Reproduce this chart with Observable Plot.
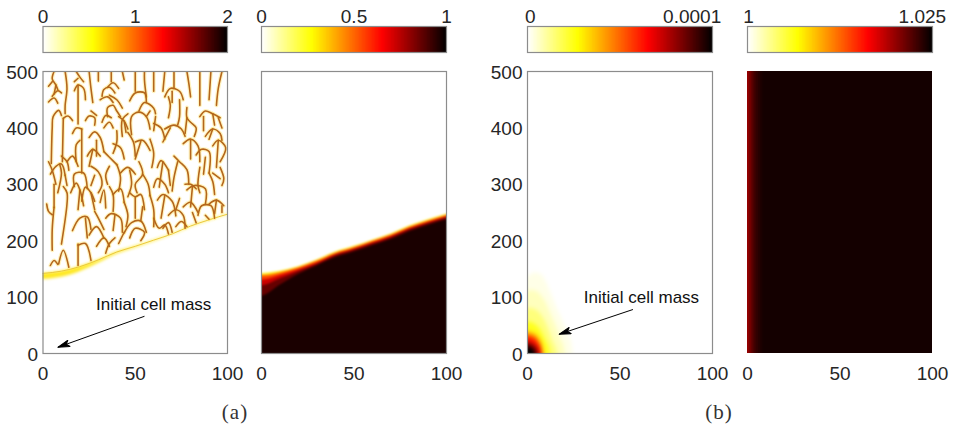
<!DOCTYPE html>
<html><head><meta charset="utf-8">
<script src="https://cdn.jsdelivr.net/npm/d3@7"></script>
<script src="https://cdn.jsdelivr.net/npm/@observablehq/plot@0.6"></script>
<style>
html,body{margin:0;padding:0;background:#fff;}
#root{position:relative;width:957px;height:428px;overflow:hidden;font-family:"Liberation Sans",sans-serif;}
#root>svg{position:absolute;overflow:visible;background:transparent;}
.cap{position:absolute;top:400px;font:21px "Liberation Serif",serif;letter-spacing:1px;color:#333;transform:translateX(-50%);}
</style></head><body><div id="root"></div>
<script>
// colour map stops (fraction of the bar)
const mapStops = [0, 0.27, 0.65, 1];
const mapColors = ["#ffffff", "#ffff00", "#ff0000", "#000000"];
const rampSteps = d3.range(0, 1, 1 / 128);

// colour bars: [label, position along bar as fraction]
const barDomains = [[0, 2], [0, 1], [0, 0.0001], [1, 1.025]];
const barLabels = [
  [["0", 0], ["1", 0.5], ["2", 1]],
  [["0", 0], ["0.5", 0.5], ["1", 1]],
  [["0", 0.015], ["0.0001", 0.89]],
  [["1", 0.005], ["1.025", 0.945]]
];

// axes
const xTicks = [0, 50, 100];
const yTicks = [0, 100, 200, 300, 400, 500];

// propagating front height, y over x
const frontX = [-6, 0, 10, 20, 30, 40, 50, 60, 70, 80, 90, 100, 106];
const frontY = [141, 142, 146, 154, 166, 180, 190, 201, 212, 226, 237, 247, 252];
const bandLow = [130, 131, 135, 145, 160, 176, 187, 198, 210, 224, 235, 245, 250];

// panel (a, right): cell density levels below the front
const frontLevels = [
  [0.18, [141, 142, 146, 154, 166, 180, 190, 201, 212, 226, 237, 247, 252]],
  [0.35, [140, 140, 145, 153, 165, 179, 189, 200, 211, 225, 236, 246, 251]],
  [0.55, [137, 137, 142, 151, 163, 177, 187, 198, 209, 223, 234, 244, 249]],
  [0.72, [130, 130, 138, 148, 160, 175, 185, 196, 207, 221, 232, 242, 247]],
  [0.86, [120, 120, 132, 145, 158, 173, 183, 194, 205, 219, 230, 240, 245]],
  [0.965, [102, 102, 121, 140, 155, 170, 180, 191, 202, 216, 227, 237, 242]]
];

// panel (b, left): concentration contours, y over x
const blobX = [-10, 0, 2, 4, 6, 8, 10, 12, 14, 16, 18, 20, 22, 24, 26];
const blobLevels = [
  [0.025, [130, 135, 140, 143, 142, 138, 128, 112, 96, 80, 66, 50, 36, 16, 0]],
  [0.07, [108, 110, 112, 111, 108, 100, 90, 75, 60, 44, 26, 8, 0, 0, 0]],
  [0.14, [78, 80, 80, 78, 74, 66, 54, 38, 20, 4, 0, 0, 0, 0, 0]],
  [0.24, [56, 56, 55, 52, 46, 36, 22, 6, 0, 0, 0, 0, 0, 0, 0]],
  [0.42, [38, 38, 37, 34, 28, 14, 0, 0, 0, 0, 0, 0, 0, 0, 0]],
  [0.62, [30, 30, 29, 26, 18, 4, 0, 0, 0, 0, 0, 0, 0, 0, 0]],
  [0.82, [20, 20, 18, 14, 4, 0, 0, 0, 0, 0, 0, 0, 0, 0, 0]],
  [1, [12, 12, 10, 4, 0, 0, 0, 0, 0, 0, 0, 0, 0, 0, 0]]
];

// panel (b, right): value columns
const columnEdges = [0, 1, 2, 3, 4, 5, 6, 7, 8, 9, 100];
const columnValues = [1.0200, 1.0208, 1.0216, 1.0224, 1.0230, 1.0234, 1.0237, 1.0240, 1.0242, 1.0243];

// panel (a, left): branching strands traced as x,y,x,y...
const strands = [
  [6,500,5,487,7,476,8,468],[3,474,5,482],[3,446,6,453,8,444],[7,476,6,460],[5,456,8,466,10,462],
  [12,500,13,470,12,440,12,425],[4.5,337,5,400,5.5,420,8.5,431,10,422],[11,417,13.5,421,16,413],[11,417,10.5,340],
  [18,500,20,490,22,482],[17,482,19,488],[17,466,19,476,22,470,23,450],[19,476,19,407],
  [25,500,26,470,27,445],[30,500,30,483],[37,500,37,482],[43,500,44,485],[35,472,38,480,41,470],[32,456,33,468,36,472,39,462],
  [36,458,40,450,43,435],[31,450,35,455,38,445],[26,430,29,422],[23,413,25,421,28,418,28,405],[16,390,18,400,21,398],
  [21,398,21,320],[25,383,28,393,31,383,33,358],[29,378,29,350],[18,340,18,370,20,378],
  [35,420,35,436,38,440,40,430,42,420],[41,420,44,412,46,398],[44,412,45,392],[32,410,34,422,37,418],[33,400,36,410,38,400],
  [50,500,50,465],[47,448,50,462,55,462,56,445],[55,500,55,485,56,455],[60,500,60,465],[66,500,65,465],[71,500,71,470],
  [78,500,79,480,80,455],[85,500,85,440],[91,500,90,450],[97,500,95,470,94,440],
  [52,430,55,445,60,435,61,425],[48,388,48,420,52,428,56,420,58,398],[56,420,58,430],[43,385,43,415,46,425],
  [66,455,69,470,74,465,76,450],[68,455,69,440,68,418],[70,465,70,445],[61,420,60,395],[60,408,64,400,66,380],
  [74,450,74,420,73,405],[78,436,78,418,80,410,83,400,82,385],[78,418,77,390],[66,398,71,405,75,398,77,385],[69,400,65,375],
  [85,420,88,430,92,425,96,418],[87,395,87,420],[92,425,93,405],[95,418,97,400],[88,385,92,398,96,390,97,378],[92,398,90,380],
  [40,395,40,375,38,355],[46,392,49,375,50,350],[38,372,42,365,44,345],[50,375,54,378,58,360],[53,376,50,345],
  [58,380,60,355,59,330],[33,358,36,348,40,335],[24,350,27,362,31,350],[27,362,25,332],
  [13,340,16,350,19,332],[14,325,13,340,10,350],[3,340,5,325,7,300],[4,318,7,332,10,336,12,316],[12,316,13,298],[9,336,10,320,8,285],
  [17,296,17,318,22,320,24,292],[26,332,30,322,32,300,30,285],[28,316,26,298],[36,332,34,316,35,300],[40,335,42,312,41,288],
  [42,320,46,330,50,318],[47,325,48,300,46,278],[52,340,54,318,50,300,51,285],[54,318,57,300,58,280],[62,330,64,342,68,325],
  [65,340,63,295],[68,325,69,298],[71,350,74,340,78,326,79,300],[73,340,71,312,70,288],[60,295,62,310,66,300,68,285],
  [76,372,80,380,84,368,85,340],[80,380,80,345],[83,352,86,362,90,358,90,320],[92,368,95,378,99,365,96,340],[95,378,94,330],[88,348,87,318],[96,330,98,310,97,298],
  [85,330,84,298,85,285],[90,320,92,305,93,282],[77,300,80,300,83,292],[92,320,96,310],
  [6,259,5,220,5,183],[6,300,6,259],[11,296,13,285,13,265,10,194],[15,285,18,302,20,290,22,262],[20,290,19,255],[2,265,3,252,5,246],
  [4,156,6,165,8,158],[8.5,159,11,183,14,153],[19,194,19,156],[19,192,23,195,26,165],[21,270,23,295,26,285,28,270],[26,285,28,255],
  [16,218,20,240,24,242,26,220],[23,240,24,205],[28,252,30,240,33,220],[31,268,33,290,34,258],[36,296,38,282,38,252],[38,282,42,292,44,268],
  [34,240,37,248,42,240,43,215],[39,246,38,218],[29,190,33,205,36,190],[25,210,29,225,33,205],[44,268,46,245,45,225],
  [47,285,50,278,53,282,55,255],[50,278,50,240],[44,214,48,232,53,235,56,215],[53,235,54,260],[58,280,60,255,60,225],[47,205,50,222,55,215,53,200],
  [62,272,65,282,70,270,72,244],[66,280,64,240],[60,240,63,222,66,228,68,212],[68,245,72,255,76,245,77,222],[72,255,74,275],
  [78,290,82,298,88,292,88,265],[81,296,80,260],[84,245,86,262,91,262,93,240],[76,260,80,268,84,250],[90,265,94,272,98,262],[94,272,93,248],
  [97,262,97,250],[81,250,83,232],[88,245,90,238],[72,225,75,234,78,225],[65,222,68,232,70,215],[41,195,44,215],[34,178,36,195,39,205]
];

// annotation
const noteText = "Initial cell mass";
const noteA = {tx: 60, ty: 87, x1: 55, y1: 66, x2: 8, y2: 11};
const noteB = {tx: 61.6, ty: 99, x1: 57, y1: 78, x2: 17, y2: 34};
const captions = [["(a)", 235], ["(b)", 719]];

// columns: [left, width, marginLeft, marginRight]
const cols = [[0, 250, 42.5, 23], [250, 215, 11, 19], [480, 250, 47, 18], [730, 227, 17, 25]];

const root = document.getElementById("root");
const gray = "#8c8c8c", ink = "#262626", tickFont = 19;

function colorFor(d0, d1) {
  return {type: "linear", domain: mapStops.map(s => d0 + s * (d1 - d0)), range: mapColors, interpolate: "rgb"};
}
function arrowHead() {
  const ns = "http://www.w3.org/2000/svg";
  const m = document.createElementNS(ns, "marker");
  m.setAttribute("viewBox", "-13 -4 14 8");
  m.setAttribute("markerWidth", 14);
  m.setAttribute("markerHeight", 8);
  m.setAttribute("markerUnits", "userSpaceOnUse");
  m.setAttribute("orient", "auto");
  const p = document.createElementNS(ns, "path");
  p.setAttribute("d", "M0,0L-12,-3.4L-9,0L-12,3.4Z");
  p.setAttribute("fill", "#000");
  m.appendChild(p);
  return m;
}
function place(svg, left, top) {
  svg.style.left = left + "px";
  svg.style.top = top + "px";
  root.appendChild(svg);
  return svg;
}
function blur(svg, label, px) {
  svg.querySelectorAll(`g[aria-label="${label}"]`).forEach(g => g.style.filter = `blur(${px}px)`);
}

// colour bars
barDomains.forEach(([d0, d1], i) => {
  const [left, width, ml, mr] = cols[i];
  const ramp = rampSteps.map(s => ({a: d0 + s * (d1 - d0), b: d0 + Math.min(1, s + 2 / 128) * (d1 - d0)}));
  const labels = barLabels[i].map(([t, f]) => ({t, x: d0 + f * (d1 - d0)}));
  place(Plot.plot({
    width, height: 53, marginLeft: ml, marginRight: mr, marginTop: 26, marginBottom: 1,
    style: {background: "transparent", overflow: "visible"},
    x: {domain: [d0, d1], axis: null}, y: {domain: [0, 1], axis: null},
    color: colorFor(d0, d1),
    marks: [
      Plot.rect(ramp, {x1: "a", x2: "b", y1: () => 0, y2: () => 1, fill: "a", inset: 0}),
      Plot.frame({stroke: gray, strokeWidth: 1.2}),
      Plot.text(labels, {x: "x", text: "t", frameAnchor: "top", lineAnchor: "middle", dy: -10, fontSize: tickFont, fill: ink, fontFamily: "Liberation Sans"})
    ]
  }), left, 0);
});

// panels
function panel(i, marks, after) {
  const [left, width, ml, mr] = cols[i];
  const withY = i === 0 || i === 2;
  const axes = [
    Plot.axisX(xTicks, {tickSize: 0, tickPadding: 13, fontSize: tickFont, fill: ink, label: null, tickFormat: d => String(d), fontFamily: "Liberation Sans"})
  ];
  if (withY) axes.push(Plot.axisY(yTicks, {tickSize: 0, tickPadding: 5, dy: 1, fontSize: tickFont, fill: ink, label: null, tickFormat: d => String(d), fontFamily: "Liberation Sans"}));
  const svg = Plot.plot({
    width, height: 320, marginLeft: ml, marginRight: mr, marginTop: 11, marginBottom: 27,
    style: {background: "transparent", overflow: "visible"},
    x: {domain: [0, 100]}, y: withY ? {domain: [0, 500]} : {domain: [0, 500], axis: null},
    color: colorFor(0, 1),
    marks: [...marks, ...axes]
  });
  if (after) after(svg);
  place(svg, left, 60);
}
function note(n) {
  return [
    Plot.text([n], {x: "tx", y: "ty", text: () => noteText, fontSize: 17, fill: "#111", fontFamily: "Liberation Sans"}),
    Plot.link([n], {x1: "x1", y1: "y1", x2: "x2", y2: "y2", stroke: "#000", strokeWidth: 1, markerEnd: arrowHead})
  ];
}
const frontRows = frontX.map((x, j) => ({x, y: frontY[j], low: bandLow[j]}));
const strandRows = strands.flatMap((s, id) => d3.range(0, s.length, 2).map(j => ({id, x: s[j], y: s[j + 1]})));
// a contour that has left the panel is sent well below the axis, so blur leaves no trace along it
const levelRows = (xs, levels) => levels.flatMap(([v, ys]) => xs.map((x, j) => ({v, x, y: ys[j] === 0 ? -60 : ys[j], base: -60})));

// (a) left: stalks above the front
panel(0, [
  Plot.area(frontRows, {x1: "x", x2: "x", y1: "low", y2: "y", fill: "#ffe820", clip: "frame", curve: "monotone-x"}),
  Plot.line(frontRows, {x: "x", y: "y", stroke: "#eac83c", strokeWidth: 1, clip: "frame", curve: "monotone-x"}),
  Plot.line(strandRows, {x: "x", y: "y", z: "id", stroke: "#ffe060", strokeWidth: 4, strokeOpacity: 0.4, curve: "catmull-rom", clip: "frame"}),
  Plot.line(strandRows, {x: "x", y: "y", z: "id", stroke: "#b4661c", strokeWidth: 1.6, curve: "catmull-rom", clip: "frame"}),
  Plot.frame({stroke: gray, strokeWidth: 1.2}),
  ...note(noteA)
], svg => {
  blur(svg, "area", 1.4);
  blur(svg, "line", 0.35);
});

// (a) right: density
panel(1, [
  Plot.area(levelRows(frontX, frontLevels), {x1: "x", x2: "x", y1: "base", y2: "y", z: "v", fill: "v", clip: "frame", curve: "monotone-x"}),
  Plot.frame({stroke: gray, strokeWidth: 1.2})
], svg => blur(svg, "area", 0.9));

// (b) left: concentration
panel(2, [
  Plot.area(levelRows(blobX, blobLevels), {x1: "x", x2: "x", y1: "base", y2: "y", z: "v", fill: "v", clip: "frame", curve: "monotone-x"}),
  Plot.frame({stroke: gray, strokeWidth: 1.2}),
  ...note(noteB)
], svg => blur(svg, "area", 2));

// (b) right: background value
const colRows = columnValues.map((v, j) => ({a: columnEdges[j], b: columnEdges[Math.min(j + 2, columnValues.length)], v: (v - 1) / 0.025}));
panel(3, [
  Plot.rect(colRows, {x1: "a", x2: "b", y1: () => 0, y2: () => 500, fill: "v", inset: 0})
]);

captions.forEach(([t, x]) => {
  const d = document.createElement("div");
  d.className = "cap";
  d.style.left = x + "px";
  d.textContent = t;
  root.appendChild(d);
});
</script></body></html>
